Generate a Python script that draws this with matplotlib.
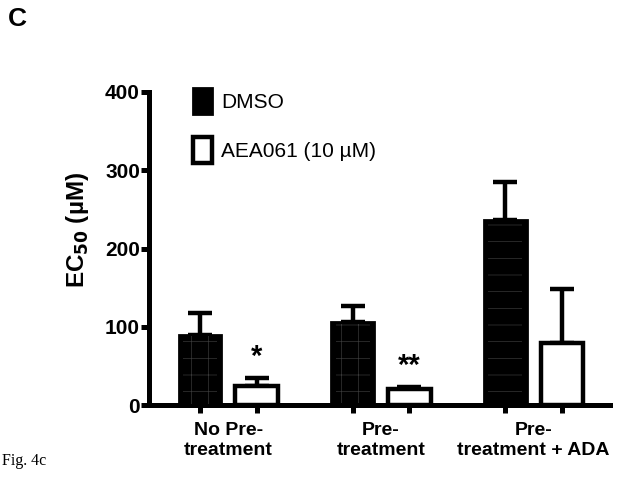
import matplotlib
matplotlib.use("Agg")
import matplotlib.pyplot as plt
import numpy as np

groups = ["No Pre-\ntreatment", "Pre-\ntreatment", "Pre-\ntreatment + ADA"]
series = ["DMSO", "AEA061 (10 µM)"]
dmso_mean = [90, 106, 237]
dmso_err = [28, 20, 48]
aea_mean = [24, 20, 79]
aea_err = [10, 3, 69]
stars = ["*", "**", ""]
yticks = [0, 100, 200, 300, 400]

plt.rcParams['font.family'] = ['Liberation Sans', 'DejaVu Sans']
plt.rcParams['hatch.linewidth'] = 0.5

fig = plt.figure(figsize=(6.35, 4.94), dpi=100)
ax = fig.add_axes([0.2346, 0.180, 0.726, 0.6338])

x = np.arange(len(groups))
off = 0.186
w = 0.28
lw = 3.2

ax.bar(x - off, dmso_mean, w, color='black', edgecolor='black', linewidth=2,
       zorder=3, label=series[0])
# faint texture seen inside the dark bars
hatches = ['+', '+', '-']
for i in range(len(groups)):
    ax.bar(x[i] - off, dmso_mean[i] * 0.96, w * 0.8, bottom=dmso_mean[i] * 0.02,
           color='none', edgecolor='#383838', linewidth=0, hatch=hatches[i], zorder=4)
ax.bar(x + off, aea_mean, w, color='white', edgecolor='black', linewidth=lw,
       zorder=3, label=series[1])
ax.errorbar(x - off, dmso_mean, yerr=[np.zeros(3), dmso_err], fmt='none', ecolor='black',
            elinewidth=lw, capsize=8.5, capthick=lw, zorder=2)
ax.errorbar(x + off, aea_mean, yerr=[np.zeros(3), aea_err], fmt='none', ecolor='black',
            elinewidth=lw, capsize=8.5, capthick=lw, zorder=2)

for i, s in enumerate(stars):
    if s:
        ax.text(x[i] + off, aea_mean[i] + aea_err[i] + 9, s, ha='center', va='bottom',
                fontsize=21, fontweight='bold')

ax.set_xlim(-0.52, 2.5)
ax.set_ylim(0, 400)
ax.set_yticks(yticks)
ax.set_yticklabels([str(t) for t in yticks], fontsize=15, fontweight='heavy')
ax.set_xticks(np.concatenate([x - off, x + off]))
ax.set_xticklabels([])
for i, g in enumerate(groups):
    ax.text(x[i], -22, g, ha='center', va='top', fontsize=14, fontweight='bold',
            linespacing=1.22)

ax.spines['top'].set_visible(False)
ax.spines['right'].set_visible(False)
ax.spines['left'].set_linewidth(3.6)
ax.spines['bottom'].set_linewidth(3.6)
ax.tick_params(axis='both', length=5.5, width=3.6, direction='out', pad=1)

ax.set_ylabel("EC$_{\\mathbf{50}}$ (µM)", fontsize=17.5, fontweight='bold')
ax.yaxis.set_label_coords(-0.126, 0.559)

leg = ax.legend(loc='upper left', bbox_to_anchor=(193 / 635, 1 - 88 / 494),
                bbox_transform=fig.transFigure, frameon=False, fontsize=15,
                borderpad=0, borderaxespad=0,
                handlelength=0.9, handleheight=1.55, handletextpad=0.45, labelspacing=1.1)

fig.text(0.012, 0.962, "C", fontsize=19, fontweight='bold', va='center')
fig.text(0.003, 0.067, "Fig. 4c", fontsize=11.5, family='Liberation Serif', va='center')

fig.savefig("out.png", dpi=100)
